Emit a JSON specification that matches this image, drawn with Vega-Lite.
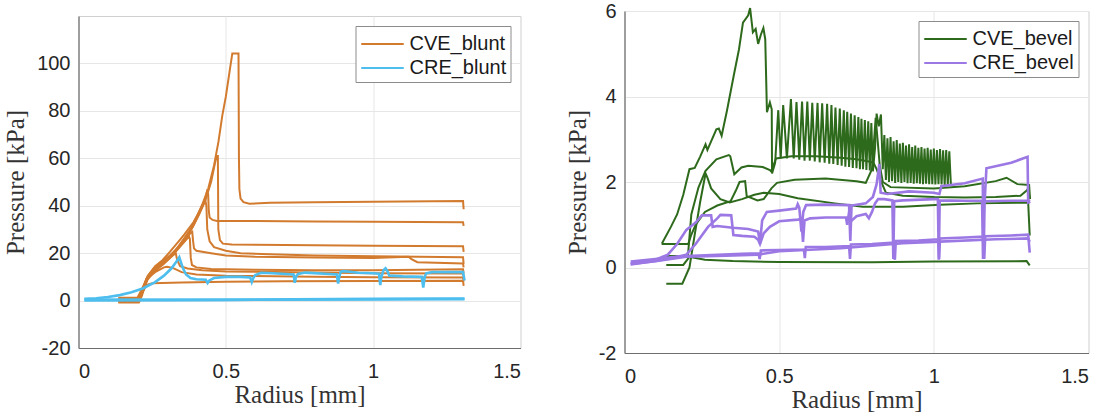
{
"$schema":"https://vega.github.io/schema/vega-lite/v6.json",
"padding":{"left":2.5,"top":0,"right":5,"bottom":0},
"background":"white",
"datasets":{
"blunt":[
{"g":"CVE_blunt","t":1,"x":0.135,"y":-0.8},{"g":"CVE_blunt","t":1,"x":0.205,"y":-0.8},{"g":"CVE_blunt","t":1,"x":0.215,"y":2},{"g":"CVE_blunt","t":1,"x":0.23,"y":8},{"g":"CVE_blunt","t":1,"x":0.245,"y":11.5},{"g":"CVE_blunt","t":1,"x":0.265,"y":14},{"g":"CVE_blunt","t":1,"x":0.29,"y":16},{"g":"CVE_blunt","t":1,"x":0.317,"y":19.5},{"g":"CVE_blunt","t":1,"x":0.34,"y":23},{"g":"CVE_blunt","t":1,"x":0.36,"y":26.5},{"g":"CVE_blunt","t":1,"x":0.38,"y":30},{"g":"CVE_blunt","t":1,"x":0.4,"y":35},{"g":"CVE_blunt","t":1,"x":0.42,"y":40.5},{"g":"CVE_blunt","t":1,"x":0.44,"y":47},{"g":"CVE_blunt","t":1,"x":0.46,"y":57},{"g":"CVE_blunt","t":1,"x":0.475,"y":67},{"g":"CVE_blunt","t":1,"x":0.488,"y":78},{"g":"CVE_blunt","t":1,"x":0.5,"y":86},{"g":"CVE_blunt","t":1,"x":0.512,"y":96},{"g":"CVE_blunt","t":1,"x":0.522,"y":104.2},{"g":"CVE_blunt","t":1,"x":0.543,"y":104.2},{"g":"CVE_blunt","t":1,"x":0.5445,"y":60},{"g":"CVE_blunt","t":1,"x":0.546,"y":47},{"g":"CVE_blunt","t":1,"x":0.55,"y":43},{"g":"CVE_blunt","t":1,"x":0.56,"y":41.5},{"g":"CVE_blunt","t":1,"x":0.58,"y":40.8},{"g":"CVE_blunt","t":1,"x":0.65,"y":41.2},{"g":"CVE_blunt","t":1,"x":0.8,"y":41.5},{"g":"CVE_blunt","t":1,"x":1.0,"y":41.7},{"g":"CVE_blunt","t":1,"x":1.2,"y":41.9},{"g":"CVE_blunt","t":1,"x":1.305,"y":42},{"g":"CVE_blunt","t":1,"x":1.307,"y":38.5},
{"g":"CVE_blunt","t":2,"x":0.135,"y":0},{"g":"CVE_blunt","t":2,"x":0.205,"y":0},{"g":"CVE_blunt","t":2,"x":0.215,"y":3},{"g":"CVE_blunt","t":2,"x":0.23,"y":9},{"g":"CVE_blunt","t":2,"x":0.25,"y":12.5},{"g":"CVE_blunt","t":2,"x":0.27,"y":14.5},{"g":"CVE_blunt","t":2,"x":0.3,"y":17},{"g":"CVE_blunt","t":2,"x":0.325,"y":20},{"g":"CVE_blunt","t":2,"x":0.35,"y":24},{"g":"CVE_blunt","t":2,"x":0.37,"y":27.5},{"g":"CVE_blunt","t":2,"x":0.39,"y":31.5},{"g":"CVE_blunt","t":2,"x":0.41,"y":36.5},{"g":"CVE_blunt","t":2,"x":0.43,"y":42},{"g":"CVE_blunt","t":2,"x":0.45,"y":50},{"g":"CVE_blunt","t":2,"x":0.465,"y":59},{"g":"CVE_blunt","t":2,"x":0.47,"y":61},{"g":"CVE_blunt","t":2,"x":0.473,"y":61},{"g":"CVE_blunt","t":2,"x":0.4745,"y":30},{"g":"CVE_blunt","t":2,"x":0.48,"y":25.5},{"g":"CVE_blunt","t":2,"x":0.49,"y":24},{"g":"CVE_blunt","t":2,"x":0.52,"y":23.6},{"g":"CVE_blunt","t":2,"x":0.7,"y":23.4},{"g":"CVE_blunt","t":2,"x":1.0,"y":23.1},{"g":"CVE_blunt","t":2,"x":1.305,"y":22.9},{"g":"CVE_blunt","t":2,"x":1.307,"y":20.5},
{"g":"CVE_blunt","t":3,"x":0.135,"y":0.8},{"g":"CVE_blunt","t":3,"x":0.205,"y":0.8},{"g":"CVE_blunt","t":3,"x":0.215,"y":4},{"g":"CVE_blunt","t":3,"x":0.235,"y":10.5},{"g":"CVE_blunt","t":3,"x":0.255,"y":13.5},{"g":"CVE_blunt","t":3,"x":0.28,"y":16},{"g":"CVE_blunt","t":3,"x":0.31,"y":19},{"g":"CVE_blunt","t":3,"x":0.335,"y":22},{"g":"CVE_blunt","t":3,"x":0.36,"y":26},{"g":"CVE_blunt","t":3,"x":0.385,"y":30.5},{"g":"CVE_blunt","t":3,"x":0.41,"y":37},{"g":"CVE_blunt","t":3,"x":0.43,"y":43},{"g":"CVE_blunt","t":3,"x":0.436,"y":46},{"g":"CVE_blunt","t":3,"x":0.44,"y":45},{"g":"CVE_blunt","t":3,"x":0.442,"y":38},{"g":"CVE_blunt","t":3,"x":0.445,"y":35},{"g":"CVE_blunt","t":3,"x":0.455,"y":34},{"g":"CVE_blunt","t":3,"x":0.47,"y":33.6},{"g":"CVE_blunt","t":3,"x":0.6,"y":33.6},{"g":"CVE_blunt","t":3,"x":0.8,"y":33.3},{"g":"CVE_blunt","t":3,"x":1.0,"y":33.2},{"g":"CVE_blunt","t":3,"x":1.305,"y":33},{"g":"CVE_blunt","t":3,"x":1.307,"y":31.5},
{"g":"CVE_blunt","t":4,"x":0.135,"y":-0.3},{"g":"CVE_blunt","t":4,"x":0.205,"y":-0.3},{"g":"CVE_blunt","t":4,"x":0.218,"y":4},{"g":"CVE_blunt","t":4,"x":0.24,"y":11},{"g":"CVE_blunt","t":4,"x":0.26,"y":14.5},{"g":"CVE_blunt","t":4,"x":0.285,"y":17},{"g":"CVE_blunt","t":4,"x":0.31,"y":20.5},{"g":"CVE_blunt","t":4,"x":0.34,"y":25},{"g":"CVE_blunt","t":4,"x":0.36,"y":28},{"g":"CVE_blunt","t":4,"x":0.39,"y":33},{"g":"CVE_blunt","t":4,"x":0.41,"y":37.5},{"g":"CVE_blunt","t":4,"x":0.425,"y":41},{"g":"CVE_blunt","t":4,"x":0.43,"y":42.5},{"g":"CVE_blunt","t":4,"x":0.434,"y":40},{"g":"CVE_blunt","t":4,"x":0.437,"y":30},{"g":"CVE_blunt","t":4,"x":0.445,"y":25},{"g":"CVE_blunt","t":4,"x":0.46,"y":22.5},{"g":"CVE_blunt","t":4,"x":0.5,"y":21},{"g":"CVE_blunt","t":4,"x":0.55,"y":20},{"g":"CVE_blunt","t":4,"x":0.65,"y":19.5},{"g":"CVE_blunt","t":4,"x":0.8,"y":19},{"g":"CVE_blunt","t":4,"x":1.0,"y":18.7},{"g":"CVE_blunt","t":4,"x":1.305,"y":18.3},{"g":"CVE_blunt","t":4,"x":1.307,"y":15.5},
{"g":"CVE_blunt","t":5,"x":0.135,"y":1.2},{"g":"CVE_blunt","t":5,"x":0.2,"y":1.2},{"g":"CVE_blunt","t":5,"x":0.212,"y":4},{"g":"CVE_blunt","t":5,"x":0.232,"y":9.5},{"g":"CVE_blunt","t":5,"x":0.255,"y":13},{"g":"CVE_blunt","t":5,"x":0.28,"y":15},{"g":"CVE_blunt","t":5,"x":0.31,"y":18},{"g":"CVE_blunt","t":5,"x":0.34,"y":22},{"g":"CVE_blunt","t":5,"x":0.36,"y":25},{"g":"CVE_blunt","t":5,"x":0.38,"y":28.5},{"g":"CVE_blunt","t":5,"x":0.386,"y":29},{"g":"CVE_blunt","t":5,"x":0.389,"y":25},{"g":"CVE_blunt","t":5,"x":0.392,"y":22},{"g":"CVE_blunt","t":5,"x":0.4,"y":21},{"g":"CVE_blunt","t":5,"x":0.45,"y":20},{"g":"CVE_blunt","t":5,"x":0.5,"y":19},{"g":"CVE_blunt","t":5,"x":0.6,"y":18.5},{"g":"CVE_blunt","t":5,"x":0.8,"y":18.2},{"g":"CVE_blunt","t":5,"x":1.0,"y":18},{"g":"CVE_blunt","t":5,"x":1.12,"y":18.5},{"g":"CVE_blunt","t":5,"x":1.13,"y":17.5},{"g":"CVE_blunt","t":5,"x":1.15,"y":16.2},{"g":"CVE_blunt","t":5,"x":1.305,"y":15.6},{"g":"CVE_blunt","t":5,"x":1.307,"y":14},
{"g":"CVE_blunt","t":6,"x":0.135,"y":0.3},{"g":"CVE_blunt","t":6,"x":0.205,"y":0.3},{"g":"CVE_blunt","t":6,"x":0.215,"y":3.5},{"g":"CVE_blunt","t":6,"x":0.235,"y":10},{"g":"CVE_blunt","t":6,"x":0.255,"y":13},{"g":"CVE_blunt","t":6,"x":0.28,"y":15.5},{"g":"CVE_blunt","t":6,"x":0.31,"y":18.5},{"g":"CVE_blunt","t":6,"x":0.34,"y":22.5},{"g":"CVE_blunt","t":6,"x":0.36,"y":25},{"g":"CVE_blunt","t":6,"x":0.375,"y":27},{"g":"CVE_blunt","t":6,"x":0.378,"y":26},{"g":"CVE_blunt","t":6,"x":0.381,"y":18},{"g":"CVE_blunt","t":6,"x":0.385,"y":15},{"g":"CVE_blunt","t":6,"x":0.4,"y":14},{"g":"CVE_blunt","t":6,"x":0.45,"y":13.3},{"g":"CVE_blunt","t":6,"x":0.6,"y":13},{"g":"CVE_blunt","t":6,"x":0.8,"y":12.8},{"g":"CVE_blunt","t":6,"x":1.0,"y":12.8},{"g":"CVE_blunt","t":6,"x":1.305,"y":13.2},{"g":"CVE_blunt","t":6,"x":1.307,"y":11.5},
{"g":"CVE_blunt","t":7,"x":0.135,"y":-0.5},{"g":"CVE_blunt","t":7,"x":0.205,"y":-0.5},{"g":"CVE_blunt","t":7,"x":0.215,"y":3},{"g":"CVE_blunt","t":7,"x":0.235,"y":9},{"g":"CVE_blunt","t":7,"x":0.26,"y":12.5},{"g":"CVE_blunt","t":7,"x":0.29,"y":15.5},{"g":"CVE_blunt","t":7,"x":0.315,"y":18.5},{"g":"CVE_blunt","t":7,"x":0.33,"y":20},{"g":"CVE_blunt","t":7,"x":0.335,"y":17},{"g":"CVE_blunt","t":7,"x":0.345,"y":14.5},{"g":"CVE_blunt","t":7,"x":0.37,"y":13.5},{"g":"CVE_blunt","t":7,"x":0.42,"y":12.8},{"g":"CVE_blunt","t":7,"x":0.5,"y":12.3},{"g":"CVE_blunt","t":7,"x":0.8,"y":11.8},{"g":"CVE_blunt","t":7,"x":1.0,"y":11.5},{"g":"CVE_blunt","t":7,"x":1.305,"y":11.4},{"g":"CVE_blunt","t":7,"x":1.307,"y":10},
{"g":"CVE_blunt","t":8,"x":0.135,"y":0.5},{"g":"CVE_blunt","t":8,"x":0.205,"y":0.5},{"g":"CVE_blunt","t":8,"x":0.215,"y":3},{"g":"CVE_blunt","t":8,"x":0.23,"y":6.5},{"g":"CVE_blunt","t":8,"x":0.25,"y":7.3},{"g":"CVE_blunt","t":8,"x":0.35,"y":7.6},{"g":"CVE_blunt","t":8,"x":0.5,"y":7.9},{"g":"CVE_blunt","t":8,"x":0.7,"y":8.1},{"g":"CVE_blunt","t":8,"x":1.0,"y":8.3},{"g":"CVE_blunt","t":8,"x":1.305,"y":8.4},{"g":"CVE_blunt","t":8,"x":1.307,"y":6.2},
{"g":"CVE_blunt","t":9,"x":0.135,"y":0},{"g":"CVE_blunt","t":9,"x":0.205,"y":0},{"g":"CVE_blunt","t":9,"x":0.215,"y":3.5},{"g":"CVE_blunt","t":9,"x":0.235,"y":9.5},{"g":"CVE_blunt","t":9,"x":0.26,"y":12},{"g":"CVE_blunt","t":9,"x":0.29,"y":14},{"g":"CVE_blunt","t":9,"x":0.3,"y":14.3},{"g":"CVE_blunt","t":9,"x":0.32,"y":13.8},{"g":"CVE_blunt","t":9,"x":0.35,"y":12},{"g":"CVE_blunt","t":9,"x":0.4,"y":11},{"g":"CVE_blunt","t":9,"x":0.5,"y":10.5},{"g":"CVE_blunt","t":9,"x":0.8,"y":10},{"g":"CVE_blunt","t":9,"x":1.0,"y":9.8},{"g":"CVE_blunt","t":9,"x":1.305,"y":9.7},{"g":"CVE_blunt","t":9,"x":1.307,"y":8},
{"g":"CRE_blunt","t":10,"x":0.02,"y":0.7},{"g":"CRE_blunt","t":10,"x":0.06,"y":1},{"g":"CRE_blunt","t":10,"x":0.1,"y":1.5},{"g":"CRE_blunt","t":10,"x":0.14,"y":2.3},{"g":"CRE_blunt","t":10,"x":0.18,"y":3.5},{"g":"CRE_blunt","t":10,"x":0.22,"y":5.2},{"g":"CRE_blunt","t":10,"x":0.26,"y":7.8},{"g":"CRE_blunt","t":10,"x":0.29,"y":10.5},{"g":"CRE_blunt","t":10,"x":0.315,"y":13.5},{"g":"CRE_blunt","t":10,"x":0.33,"y":16},{"g":"CRE_blunt","t":10,"x":0.342,"y":18.3},{"g":"CRE_blunt","t":10,"x":0.348,"y":16},{"g":"CRE_blunt","t":10,"x":0.355,"y":13.5},{"g":"CRE_blunt","t":10,"x":0.365,"y":11},{"g":"CRE_blunt","t":10,"x":0.38,"y":9.5},{"g":"CRE_blunt","t":10,"x":0.4,"y":9},{"g":"CRE_blunt","t":10,"x":0.432,"y":8.8},{"g":"CRE_blunt","t":10,"x":0.438,"y":7.4},{"g":"CRE_blunt","t":10,"x":0.444,"y":8.5},{"g":"CRE_blunt","t":10,"x":0.46,"y":9.5},{"g":"CRE_blunt","t":10,"x":0.5,"y":10},{"g":"CRE_blunt","t":10,"x":0.55,"y":10},{"g":"CRE_blunt","t":10,"x":0.583,"y":9.7},{"g":"CRE_blunt","t":10,"x":0.588,"y":7.8},{"g":"CRE_blunt","t":10,"x":0.593,"y":9.5},{"g":"CRE_blunt","t":10,"x":0.6,"y":10.8},{"g":"CRE_blunt","t":10,"x":0.62,"y":11.7},{"g":"CRE_blunt","t":10,"x":0.66,"y":11.5},{"g":"CRE_blunt","t":10,"x":0.73,"y":11},{"g":"CRE_blunt","t":10,"x":0.734,"y":7.5},{"g":"CRE_blunt","t":10,"x":0.738,"y":10},{"g":"CRE_blunt","t":10,"x":0.745,"y":11.2},{"g":"CRE_blunt","t":10,"x":0.77,"y":11.8},{"g":"CRE_blunt","t":10,"x":0.85,"y":11.2},{"g":"CRE_blunt","t":10,"x":0.877,"y":11},{"g":"CRE_blunt","t":10,"x":0.881,"y":7.2},{"g":"CRE_blunt","t":10,"x":0.885,"y":10},{"g":"CRE_blunt","t":10,"x":0.89,"y":12.2},{"g":"CRE_blunt","t":10,"x":0.9,"y":12.4},{"g":"CRE_blunt","t":10,"x":0.95,"y":11.7},{"g":"CRE_blunt","t":10,"x":1.0,"y":11.5},{"g":"CRE_blunt","t":10,"x":1.02,"y":11.3},{"g":"CRE_blunt","t":10,"x":1.024,"y":6.5},{"g":"CRE_blunt","t":10,"x":1.028,"y":10},{"g":"CRE_blunt","t":10,"x":1.035,"y":12.8},{"g":"CRE_blunt","t":10,"x":1.042,"y":13.6},{"g":"CRE_blunt","t":10,"x":1.048,"y":12.5},{"g":"CRE_blunt","t":10,"x":1.055,"y":10.5},{"g":"CRE_blunt","t":10,"x":1.1,"y":10.2},{"g":"CRE_blunt","t":10,"x":1.165,"y":10},{"g":"CRE_blunt","t":10,"x":1.17,"y":5.5},{"g":"CRE_blunt","t":10,"x":1.175,"y":10},{"g":"CRE_blunt","t":10,"x":1.18,"y":11.5},{"g":"CRE_blunt","t":10,"x":1.2,"y":12},{"g":"CRE_blunt","t":10,"x":1.305,"y":12},{"g":"CRE_blunt","t":10,"x":1.31,"y":8.5},
{"g":"CRE_blunt","t":11,"x":0.02,"y":0},{"g":"CRE_blunt","t":11,"x":0.3,"y":0.2},{"g":"CRE_blunt","t":11,"x":0.6,"y":0.4},{"g":"CRE_blunt","t":11,"x":1.0,"y":0.7},{"g":"CRE_blunt","t":11,"x":1.31,"y":0.9},
{"g":"CRE_blunt","t":12,"x":0.02,"y":0.4},{"g":"CRE_blunt","t":12,"x":0.5,"y":0.3},{"g":"CRE_blunt","t":12,"x":1.0,"y":0.5},{"g":"CRE_blunt","t":12,"x":1.31,"y":0.6}
],
"bevel":[
{"g":"CVE_bevel","t":1,"x":0.121,"y":0.56},{"g":"CVE_bevel","t":1,"x":0.15,"y":0.95},{"g":"CVE_bevel","t":1,"x":0.17,"y":1.24},{"g":"CVE_bevel","t":1,"x":0.19,"y":1.7},{"g":"CVE_bevel","t":1,"x":0.21,"y":2.3},{"g":"CVE_bevel","t":1,"x":0.227,"y":2.33},{"g":"CVE_bevel","t":1,"x":0.245,"y":2.6},{"g":"CVE_bevel","t":1,"x":0.262,"y":2.88},{"g":"CVE_bevel","t":1,"x":0.268,"y":2.75},{"g":"CVE_bevel","t":1,"x":0.28,"y":2.95},{"g":"CVE_bevel","t":1,"x":0.297,"y":3.23},{"g":"CVE_bevel","t":1,"x":0.305,"y":3.25},{"g":"CVE_bevel","t":1,"x":0.314,"y":3.08},{"g":"CVE_bevel","t":1,"x":0.331,"y":3.66},{"g":"CVE_bevel","t":1,"x":0.354,"y":4.52},{"g":"CVE_bevel","t":1,"x":0.37,"y":5.1},{"g":"CVE_bevel","t":1,"x":0.383,"y":5.73},{"g":"CVE_bevel","t":1,"x":0.4,"y":5.9},{"g":"CVE_bevel","t":1,"x":0.406,"y":6.07},{"g":"CVE_bevel","t":1,"x":0.415,"y":5.5},{"g":"CVE_bevel","t":1,"x":0.424,"y":5.58},{"g":"CVE_bevel","t":1,"x":0.432,"y":5.23},{"g":"CVE_bevel","t":1,"x":0.441,"y":5.45},{"g":"CVE_bevel","t":1,"x":0.449,"y":5.6},{"g":"CVE_bevel","t":1,"x":0.455,"y":5.34},{"g":"CVE_bevel","t":1,"x":0.4605,"y":3.63},{"g":"CVE_bevel","t":1,"x":0.47,"y":3.86},{"g":"CVE_bevel","t":1,"x":0.476,"y":3.7},{"g":"CVE_bevel","t":1,"x":0.477,"y":2.2},{"g":"CVE_bevel","t":1,"x":0.487,"y":2.45},
{"g":"CVE_bevel","t":1,"x":0.497,"y":3.68},{"g":"CVE_bevel","t":1,"x":0.505,"y":2.55},{"g":"CVE_bevel","t":1,"x":0.513,"y":3.8},{"g":"CVE_bevel","t":1,"x":0.525,"y":2.55},{"g":"CVE_bevel","t":1,"x":0.538,"y":3.94},{"g":"CVE_bevel","t":1,"x":0.547,"y":2.55},{"g":"CVE_bevel","t":1,"x":0.556,"y":3.87},{"g":"CVE_bevel","t":1,"x":0.565,"y":2.52},{"g":"CVE_bevel","t":1,"x":0.574,"y":3.88},{"g":"CVE_bevel","t":1,"x":0.582,"y":2.5},{"g":"CVE_bevel","t":1,"x":0.591,"y":3.88},{"g":"CVE_bevel","t":1,"x":0.599,"y":2.5},{"g":"CVE_bevel","t":1,"x":0.607,"y":3.85},{"g":"CVE_bevel","t":1,"x":0.615,"y":2.48},{"g":"CVE_bevel","t":1,"x":0.624,"y":3.85},{"g":"CVE_bevel","t":1,"x":0.631,"y":2.46},{"g":"CVE_bevel","t":1,"x":0.639,"y":3.84},{"g":"CVE_bevel","t":1,"x":0.647,"y":2.45},{"g":"CVE_bevel","t":1,"x":0.655,"y":3.83},{"g":"CVE_bevel","t":1,"x":0.662,"y":2.43},{"g":"CVE_bevel","t":1,"x":0.669,"y":3.8},{"g":"CVE_bevel","t":1,"x":0.675,"y":2.42},{"g":"CVE_bevel","t":1,"x":0.682,"y":3.74},{"g":"CVE_bevel","t":1,"x":0.689,"y":2.4},{"g":"CVE_bevel","t":1,"x":0.696,"y":3.72},{"g":"CVE_bevel","t":1,"x":0.702,"y":2.38},{"g":"CVE_bevel","t":1,"x":0.709,"y":3.68},{"g":"CVE_bevel","t":1,"x":0.714,"y":2.36},{"g":"CVE_bevel","t":1,"x":0.72,"y":3.64},{"g":"CVE_bevel","t":1,"x":0.726,"y":2.35},{"g":"CVE_bevel","t":1,"x":0.732,"y":3.6},{"g":"CVE_bevel","t":1,"x":0.738,"y":2.33},{"g":"CVE_bevel","t":1,"x":0.744,"y":3.56},{"g":"CVE_bevel","t":1,"x":0.75,"y":2.32},{"g":"CVE_bevel","t":1,"x":0.756,"y":3.52},{"g":"CVE_bevel","t":1,"x":0.761,"y":2.3},{"g":"CVE_bevel","t":1,"x":0.766,"y":3.48},{"g":"CVE_bevel","t":1,"x":0.771,"y":2.3},{"g":"CVE_bevel","t":1,"x":0.777,"y":3.45},{"g":"CVE_bevel","t":1,"x":0.782,"y":2.28},{"g":"CVE_bevel","t":1,"x":0.788,"y":3.42},{"g":"CVE_bevel","t":1,"x":0.793,"y":2.27},{"g":"CVE_bevel","t":1,"x":0.798,"y":3.38},{"g":"CVE_bevel","t":1,"x":0.803,"y":2.25},
{"g":"CVE_bevel","t":1,"x":0.81,"y":2.8},{"g":"CVE_bevel","t":1,"x":0.815,"y":3.6},{"g":"CVE_bevel","t":1,"x":0.822,"y":3.3},{"g":"CVE_bevel","t":1,"x":0.829,"y":3.58},{"g":"CVE_bevel","t":1,"x":0.835,"y":2.3},
{"g":"CVE_bevel","t":1,"x":0.84,"y":3.1},{"g":"CVE_bevel","t":1,"x":0.845,"y":2.05},{"g":"CVE_bevel","t":1,"x":0.85,"y":3.02},{"g":"CVE_bevel","t":1,"x":0.855,"y":2.0},{"g":"CVE_bevel","t":1,"x":0.86,"y":3.05},{"g":"CVE_bevel","t":1,"x":0.865,"y":2.02},{"g":"CVE_bevel","t":1,"x":0.87,"y":2.95},{"g":"CVE_bevel","t":1,"x":0.875,"y":1.98},{"g":"CVE_bevel","t":1,"x":0.88,"y":2.98},{"g":"CVE_bevel","t":1,"x":0.885,"y":2.0},{"g":"CVE_bevel","t":1,"x":0.89,"y":2.9},{"g":"CVE_bevel","t":1,"x":0.895,"y":1.98},{"g":"CVE_bevel","t":1,"x":0.9,"y":2.92},{"g":"CVE_bevel","t":1,"x":0.905,"y":2.0},{"g":"CVE_bevel","t":1,"x":0.91,"y":2.85},{"g":"CVE_bevel","t":1,"x":0.915,"y":1.97},{"g":"CVE_bevel","t":1,"x":0.92,"y":2.88},{"g":"CVE_bevel","t":1,"x":0.925,"y":1.98},{"g":"CVE_bevel","t":1,"x":0.93,"y":2.82},{"g":"CVE_bevel","t":1,"x":0.935,"y":1.96},{"g":"CVE_bevel","t":1,"x":0.94,"y":2.85},{"g":"CVE_bevel","t":1,"x":0.945,"y":1.97},{"g":"CVE_bevel","t":1,"x":0.95,"y":2.8},{"g":"CVE_bevel","t":1,"x":0.955,"y":1.96},{"g":"CVE_bevel","t":1,"x":0.96,"y":2.82},{"g":"CVE_bevel","t":1,"x":0.965,"y":1.95},{"g":"CVE_bevel","t":1,"x":0.97,"y":2.78},{"g":"CVE_bevel","t":1,"x":0.975,"y":1.96},{"g":"CVE_bevel","t":1,"x":0.98,"y":2.8},{"g":"CVE_bevel","t":1,"x":0.985,"y":1.95},{"g":"CVE_bevel","t":1,"x":0.99,"y":2.76},{"g":"CVE_bevel","t":1,"x":0.995,"y":1.95},{"g":"CVE_bevel","t":1,"x":1.0,"y":2.78},{"g":"CVE_bevel","t":1,"x":1.005,"y":1.94},{"g":"CVE_bevel","t":1,"x":1.01,"y":2.75},{"g":"CVE_bevel","t":1,"x":1.015,"y":1.95},{"g":"CVE_bevel","t":1,"x":1.02,"y":2.77},{"g":"CVE_bevel","t":1,"x":1.025,"y":1.94},{"g":"CVE_bevel","t":1,"x":1.03,"y":2.74},{"g":"CVE_bevel","t":1,"x":1.035,"y":1.93},{"g":"CVE_bevel","t":1,"x":1.04,"y":2.75},{"g":"CVE_bevel","t":1,"x":1.045,"y":1.93},{"g":"CVE_bevel","t":1,"x":1.05,"y":2.72},{"g":"CVE_bevel","t":1,"x":1.055,"y":1.95},
{"g":"CVE_bevel","t":2,"x":0.135,"y":0.27},{"g":"CVE_bevel","t":2,"x":0.205,"y":0.27},{"g":"CVE_bevel","t":2,"x":0.216,"y":1.24},{"g":"CVE_bevel","t":2,"x":0.239,"y":1.87},{"g":"CVE_bevel","t":2,"x":0.262,"y":2.26},{"g":"CVE_bevel","t":2,"x":0.297,"y":2.53},{"g":"CVE_bevel","t":2,"x":0.337,"y":2.63},{"g":"CVE_bevel","t":2,"x":0.342,"y":2.6},{"g":"CVE_bevel","t":2,"x":0.355,"y":2.18},{"g":"CVE_bevel","t":2,"x":0.378,"y":2.34},{"g":"CVE_bevel","t":2,"x":0.4,"y":2.38},{"g":"CVE_bevel","t":2,"x":0.447,"y":2.35},{"g":"CVE_bevel","t":2,"x":0.47,"y":2.28},{"g":"CVE_bevel","t":2,"x":0.474,"y":2.25},{"g":"CVE_bevel","t":2,"x":0.49,"y":2.55},{"g":"CVE_bevel","t":2,"x":0.54,"y":2.6},{"g":"CVE_bevel","t":2,"x":0.62,"y":2.6},{"g":"CVE_bevel","t":2,"x":0.7,"y":2.57},{"g":"CVE_bevel","t":2,"x":0.75,"y":2.53},{"g":"CVE_bevel","t":2,"x":0.79,"y":2.48},{"g":"CVE_bevel","t":2,"x":0.805,"y":2.45},{"g":"CVE_bevel","t":2,"x":0.815,"y":2.3},{"g":"CVE_bevel","t":2,"x":0.83,"y":2.0},{"g":"CVE_bevel","t":2,"x":0.845,"y":1.75},{"g":"CVE_bevel","t":2,"x":0.9,"y":1.68},{"g":"CVE_bevel","t":2,"x":1.0,"y":1.65},{"g":"CVE_bevel","t":2,"x":1.1,"y":1.64},{"g":"CVE_bevel","t":2,"x":1.2,"y":1.65},{"g":"CVE_bevel","t":2,"x":1.28,"y":1.68},{"g":"CVE_bevel","t":2,"x":1.3,"y":1.8},{"g":"CVE_bevel","t":2,"x":1.305,"y":1.85},{"g":"CVE_bevel","t":2,"x":1.31,"y":1.6},
{"g":"CVE_bevel","t":3,"x":0.12,"y":0.55},{"g":"CVE_bevel","t":3,"x":0.206,"y":0.55},{"g":"CVE_bevel","t":3,"x":0.215,"y":0.75},{"g":"CVE_bevel","t":3,"x":0.23,"y":1.0},{"g":"CVE_bevel","t":3,"x":0.26,"y":1.3},{"g":"CVE_bevel","t":3,"x":0.3,"y":1.45},{"g":"CVE_bevel","t":3,"x":0.343,"y":1.55},{"g":"CVE_bevel","t":3,"x":0.36,"y":1.8},{"g":"CVE_bevel","t":3,"x":0.372,"y":2.0},{"g":"CVE_bevel","t":3,"x":0.39,"y":2.02},{"g":"CVE_bevel","t":3,"x":0.395,"y":1.67},{"g":"CVE_bevel","t":3,"x":0.43,"y":1.57},{"g":"CVE_bevel","t":3,"x":0.45,"y":1.6},{"g":"CVE_bevel","t":3,"x":0.475,"y":1.85},{"g":"CVE_bevel","t":3,"x":0.493,"y":1.98},{"g":"CVE_bevel","t":3,"x":0.55,"y":2.05},{"g":"CVE_bevel","t":3,"x":0.65,"y":2.08},{"g":"CVE_bevel","t":3,"x":0.75,"y":2.02},{"g":"CVE_bevel","t":3,"x":0.78,"y":1.98},{"g":"CVE_bevel","t":3,"x":0.8,"y":2.3},{"g":"CVE_bevel","t":3,"x":0.812,"y":3.5},{"g":"CVE_bevel","t":3,"x":0.818,"y":3.0},{"g":"CVE_bevel","t":3,"x":0.825,"y":2.4},{"g":"CVE_bevel","t":3,"x":0.835,"y":2.0},{"g":"CVE_bevel","t":3,"x":0.86,"y":1.88},{"g":"CVE_bevel","t":3,"x":1.0,"y":1.85},{"g":"CVE_bevel","t":3,"x":1.1,"y":1.9},{"g":"CVE_bevel","t":3,"x":1.2,"y":2.02},{"g":"CVE_bevel","t":3,"x":1.235,"y":2.1},{"g":"CVE_bevel","t":3,"x":1.27,"y":1.95},{"g":"CVE_bevel","t":3,"x":1.308,"y":1.93},{"g":"CVE_bevel","t":3,"x":1.311,"y":1.6},
{"g":"CVE_bevel","t":4,"x":0.135,"y":-0.38},{"g":"CVE_bevel","t":4,"x":0.187,"y":-0.38},{"g":"CVE_bevel","t":4,"x":0.21,"y":0},{"g":"CVE_bevel","t":4,"x":0.227,"y":0.77},{"g":"CVE_bevel","t":4,"x":0.245,"y":1.55},{"g":"CVE_bevel","t":4,"x":0.262,"y":2.2},{"g":"CVE_bevel","t":4,"x":0.268,"y":2.1},{"g":"CVE_bevel","t":4,"x":0.28,"y":1.85},{"g":"CVE_bevel","t":4,"x":0.31,"y":1.6},{"g":"CVE_bevel","t":4,"x":0.34,"y":1.52},{"g":"CVE_bevel","t":4,"x":0.38,"y":1.6},{"g":"CVE_bevel","t":4,"x":0.42,"y":1.7},{"g":"CVE_bevel","t":4,"x":0.45,"y":1.75},{"g":"CVE_bevel","t":4,"x":0.5,"y":1.72},{"g":"CVE_bevel","t":4,"x":0.56,"y":1.62},{"g":"CVE_bevel","t":4,"x":0.68,"y":1.5},{"g":"CVE_bevel","t":4,"x":0.77,"y":1.42},{"g":"CVE_bevel","t":4,"x":0.9,"y":1.42},{"g":"CVE_bevel","t":4,"x":1.02,"y":1.47},{"g":"CVE_bevel","t":4,"x":1.14,"y":1.5},{"g":"CVE_bevel","t":4,"x":1.305,"y":1.52},{"g":"CVE_bevel","t":4,"x":1.31,"y":0.75},
{"g":"CVE_bevel","t":5,"x":0.135,"y":0.06},{"g":"CVE_bevel","t":5,"x":0.19,"y":0.06},{"g":"CVE_bevel","t":5,"x":0.21,"y":0.25},{"g":"CVE_bevel","t":5,"x":0.23,"y":0.22},{"g":"CVE_bevel","t":5,"x":0.26,"y":0.18},{"g":"CVE_bevel","t":5,"x":0.35,"y":0.15},{"g":"CVE_bevel","t":5,"x":0.5,"y":0.13},{"g":"CVE_bevel","t":5,"x":0.8,"y":0.12},{"g":"CVE_bevel","t":5,"x":1.0,"y":0.14},{"g":"CVE_bevel","t":5,"x":1.3,"y":0.15},{"g":"CVE_bevel","t":5,"x":1.31,"y":0.05},
{"g":"CRE_bevel","t":6,"x":0.02,"y":0.1},{"g":"CRE_bevel","t":6,"x":0.06,"y":0.13},{"g":"CRE_bevel","t":6,"x":0.1,"y":0.18},{"g":"CRE_bevel","t":6,"x":0.14,"y":0.3},{"g":"CRE_bevel","t":6,"x":0.17,"y":0.55},{"g":"CRE_bevel","t":6,"x":0.2,"y":0.88},{"g":"CRE_bevel","t":6,"x":0.23,"y":1.05},{"g":"CRE_bevel","t":6,"x":0.25,"y":1.22},{"g":"CRE_bevel","t":6,"x":0.28,"y":1.22},{"g":"CRE_bevel","t":6,"x":0.285,"y":0.95},{"g":"CRE_bevel","t":6,"x":0.3,"y":0.97},{"g":"CRE_bevel","t":6,"x":0.35,"y":0.93},{"g":"CRE_bevel","t":6,"x":0.4,"y":0.9},{"g":"CRE_bevel","t":6,"x":0.432,"y":0.84},{"g":"CRE_bevel","t":6,"x":0.438,"y":0.56},{"g":"CRE_bevel","t":6,"x":0.445,"y":1.1},{"g":"CRE_bevel","t":6,"x":0.46,"y":1.3},{"g":"CRE_bevel","t":6,"x":0.5,"y":1.33},{"g":"CRE_bevel","t":6,"x":0.555,"y":1.38},{"g":"CRE_bevel","t":6,"x":0.56,"y":1.48},{"g":"CRE_bevel","t":6,"x":0.565,"y":1.4},{"g":"CRE_bevel","t":6,"x":0.572,"y":0.84},{"g":"CRE_bevel","t":6,"x":0.578,"y":1.3},{"g":"CRE_bevel","t":6,"x":0.587,"y":1.46},{"g":"CRE_bevel","t":6,"x":0.65,"y":1.47},{"g":"CRE_bevel","t":6,"x":0.726,"y":1.46},{"g":"CRE_bevel","t":6,"x":0.73,"y":0.62},{"g":"CRE_bevel","t":6,"x":0.734,"y":1.45},{"g":"CRE_bevel","t":6,"x":0.78,"y":1.5},{"g":"CRE_bevel","t":6,"x":0.803,"y":1.65},{"g":"CRE_bevel","t":6,"x":0.815,"y":1.95},{"g":"CRE_bevel","t":6,"x":0.824,"y":2.42},{"g":"CRE_bevel","t":6,"x":0.828,"y":1.75},{"g":"CRE_bevel","t":6,"x":0.85,"y":1.72},{"g":"CRE_bevel","t":6,"x":0.92,"y":1.78},{"g":"CRE_bevel","t":6,"x":1.0,"y":1.75},{"g":"CRE_bevel","t":6,"x":1.018,"y":1.72},{"g":"CRE_bevel","t":6,"x":1.024,"y":1.9},{"g":"CRE_bevel","t":6,"x":1.1,"y":1.97},{"g":"CRE_bevel","t":6,"x":1.158,"y":2.08},{"g":"CRE_bevel","t":6,"x":1.161,"y":0.2},{"g":"CRE_bevel","t":6,"x":1.164,"y":1.5},{"g":"CRE_bevel","t":6,"x":1.17,"y":2.32},{"g":"CRE_bevel","t":6,"x":1.25,"y":2.45},{"g":"CRE_bevel","t":6,"x":1.303,"y":2.59},{"g":"CRE_bevel","t":6,"x":1.305,"y":1.54},{"g":"CRE_bevel","t":6,"x":1.31,"y":1.58},
{"g":"CRE_bevel","t":7,"x":0.02,"y":0.07},{"g":"CRE_bevel","t":7,"x":0.1,"y":0.15},{"g":"CRE_bevel","t":7,"x":0.15,"y":0.22},{"g":"CRE_bevel","t":7,"x":0.2,"y":0.3},{"g":"CRE_bevel","t":7,"x":0.23,"y":0.55},{"g":"CRE_bevel","t":7,"x":0.27,"y":0.95},{"g":"CRE_bevel","t":7,"x":0.3,"y":1.15},{"g":"CRE_bevel","t":7,"x":0.31,"y":1.23},{"g":"CRE_bevel","t":7,"x":0.345,"y":1.22},{"g":"CRE_bevel","t":7,"x":0.352,"y":0.76},{"g":"CRE_bevel","t":7,"x":0.38,"y":0.74},{"g":"CRE_bevel","t":7,"x":0.42,"y":0.72},{"g":"CRE_bevel","t":7,"x":0.432,"y":0.65},{"g":"CRE_bevel","t":7,"x":0.438,"y":0.55},{"g":"CRE_bevel","t":7,"x":0.45,"y":0.8},{"g":"CRE_bevel","t":7,"x":0.47,"y":0.95},{"g":"CRE_bevel","t":7,"x":0.5,"y":1.08},{"g":"CRE_bevel","t":7,"x":0.56,"y":1.12},{"g":"CRE_bevel","t":7,"x":0.572,"y":1.13},{"g":"CRE_bevel","t":7,"x":0.577,"y":0.6},{"g":"CRE_bevel","t":7,"x":0.582,"y":1.1},{"g":"CRE_bevel","t":7,"x":0.6,"y":1.15},{"g":"CRE_bevel","t":7,"x":0.65,"y":1.17},{"g":"CRE_bevel","t":7,"x":0.716,"y":1.17},{"g":"CRE_bevel","t":7,"x":0.72,"y":1.0},{"g":"CRE_bevel","t":7,"x":0.725,"y":1.25},{"g":"CRE_bevel","t":7,"x":0.735,"y":1.1},{"g":"CRE_bevel","t":7,"x":0.75,"y":1.2},{"g":"CRE_bevel","t":7,"x":0.78,"y":1.25},{"g":"CRE_bevel","t":7,"x":0.79,"y":1.15},{"g":"CRE_bevel","t":7,"x":0.8,"y":1.3},{"g":"CRE_bevel","t":7,"x":0.81,"y":1.5},{"g":"CRE_bevel","t":7,"x":0.82,"y":1.6},{"g":"CRE_bevel","t":7,"x":0.84,"y":1.6},{"g":"CRE_bevel","t":7,"x":0.866,"y":1.57},{"g":"CRE_bevel","t":7,"x":0.869,"y":0.2},{"g":"CRE_bevel","t":7,"x":0.872,"y":1.55},{"g":"CRE_bevel","t":7,"x":0.9,"y":1.57},{"g":"CRE_bevel","t":7,"x":1.0,"y":1.6},{"g":"CRE_bevel","t":7,"x":1.013,"y":1.6},{"g":"CRE_bevel","t":7,"x":1.016,"y":0.18},{"g":"CRE_bevel","t":7,"x":1.019,"y":1.57},{"g":"CRE_bevel","t":7,"x":1.1,"y":1.56},{"g":"CRE_bevel","t":7,"x":1.156,"y":1.56},{"g":"CRE_bevel","t":7,"x":1.159,"y":0.2},{"g":"CRE_bevel","t":7,"x":1.162,"y":1.55},{"g":"CRE_bevel","t":7,"x":1.25,"y":1.56},{"g":"CRE_bevel","t":7,"x":1.305,"y":1.56},{"g":"CRE_bevel","t":7,"x":1.31,"y":1.5},
{"g":"CRE_bevel","t":8,"x":0.02,"y":0.14},{"g":"CRE_bevel","t":8,"x":0.1,"y":0.2},{"g":"CRE_bevel","t":8,"x":0.15,"y":0.24},{"g":"CRE_bevel","t":8,"x":0.2,"y":0.27},{"g":"CRE_bevel","t":8,"x":0.3,"y":0.3},{"g":"CRE_bevel","t":8,"x":0.38,"y":0.32},{"g":"CRE_bevel","t":8,"x":0.433,"y":0.33},{"g":"CRE_bevel","t":8,"x":0.437,"y":0.2},{"g":"CRE_bevel","t":8,"x":0.441,"y":0.4},{"g":"CRE_bevel","t":8,"x":0.5,"y":0.41},{"g":"CRE_bevel","t":8,"x":0.58,"y":0.42},{"g":"CRE_bevel","t":8,"x":0.583,"y":0.22},{"g":"CRE_bevel","t":8,"x":0.586,"y":0.48},{"g":"CRE_bevel","t":8,"x":0.65,"y":0.48},{"g":"CRE_bevel","t":8,"x":0.726,"y":0.5},{"g":"CRE_bevel","t":8,"x":0.729,"y":0.2},{"g":"CRE_bevel","t":8,"x":0.732,"y":0.54},{"g":"CRE_bevel","t":8,"x":0.8,"y":0.55},{"g":"CRE_bevel","t":8,"x":0.871,"y":0.58},{"g":"CRE_bevel","t":8,"x":0.874,"y":0.18},{"g":"CRE_bevel","t":8,"x":0.877,"y":0.62},{"g":"CRE_bevel","t":8,"x":0.95,"y":0.63},{"g":"CRE_bevel","t":8,"x":1.014,"y":0.66},{"g":"CRE_bevel","t":8,"x":1.017,"y":0.2},{"g":"CRE_bevel","t":8,"x":1.02,"y":0.68},{"g":"CRE_bevel","t":8,"x":1.1,"y":0.7},{"g":"CRE_bevel","t":8,"x":1.16,"y":0.72},{"g":"CRE_bevel","t":8,"x":1.163,"y":0.2},{"g":"CRE_bevel","t":8,"x":1.166,"y":0.73},{"g":"CRE_bevel","t":8,"x":1.25,"y":0.75},{"g":"CRE_bevel","t":8,"x":1.305,"y":0.77},{"g":"CRE_bevel","t":8,"x":1.31,"y":0.35},
{"g":"CRE_bevel","t":9,"x":0.02,"y":0.08},{"g":"CRE_bevel","t":9,"x":0.1,"y":0.15},{"g":"CRE_bevel","t":9,"x":0.2,"y":0.25},{"g":"CRE_bevel","t":9,"x":0.3,"y":0.27},{"g":"CRE_bevel","t":9,"x":0.43,"y":0.3},{"g":"CRE_bevel","t":9,"x":0.5,"y":0.38},{"g":"CRE_bevel","t":9,"x":0.7,"y":0.45},{"g":"CRE_bevel","t":9,"x":0.9,"y":0.57},{"g":"CRE_bevel","t":9,"x":1.0,"y":0.6},{"g":"CRE_bevel","t":9,"x":1.2,"y":0.66},{"g":"CRE_bevel","t":9,"x":1.305,"y":0.68},{"g":"CRE_bevel","t":9,"x":1.31,"y":0.6}
]
},
"hconcat":[
{"width":442,"height":332,"data":{"name":"blunt"},
 "encoding":{
  "x":{"field":"x","type":"quantitative","scale":{"domain":[0,1.5]},"axis":{"values":[0,0.5,1,1.5],"labelExpr":"toString(datum.value)","title":"Radius [mm]"}},
  "y":{"field":"y","type":"quantitative","scale":{"domain":[-20,120]},"axis":{"values":[-20,0,20,40,60,80,100],"labelExpr":"toString(datum.value)","title":"Pressure [kPa]"}},
  "color":{"field":"g","type":"nominal","scale":{"domain":["CVE_blunt","CRE_blunt"],"range":["#D27B2F","#4DBEEE"]},"legend":{"title":null}},
  "detail":{"field":"t","type":"nominal"}
 },
 "layer":[
  {"transform":[{"filter":"datum.g==='CVE_blunt'"}],"mark":{"type":"line","strokeWidth":2}},
  {"transform":[{"filter":"datum.g==='CRE_blunt'"}],"mark":{"type":"line","strokeWidth":2.6}}
 ]
},
{"width":464,"height":342,"data":{"name":"bevel"},
 "encoding":{
  "x":{"field":"x","type":"quantitative","scale":{"domain":[0,1.5]},"axis":{"values":[0,0.5,1,1.5],"labelExpr":"toString(datum.value)","title":"Radius [mm]"}},
  "y":{"field":"y","type":"quantitative","scale":{"domain":[-2,6]},"axis":{"values":[-2,0,2,4,6],"labelExpr":"toString(datum.value)","title":"Pressure [kPa]"}},
  "color":{"field":"g","type":"nominal","scale":{"domain":["CVE_bevel","CRE_bevel"],"range":["#2E6A1C","#9C78E4"]},"legend":{"title":null}},
  "detail":{"field":"t","type":"nominal"}
 },
 "layer":[
  {"transform":[{"filter":"datum.g==='CVE_bevel'"}],"mark":{"type":"line","strokeWidth":2}},
  {"transform":[{"filter":"datum.g==='CRE_bevel'"}],"mark":{"type":"line","strokeWidth":2.6}}
 ]
}
],
"spacing":104,
"bounds":"flush",
"center":true,
"resolve":{"scale":{"color":"independent"}},
"config":{
 "view":{"stroke":"#cfcfcf","strokeWidth":1},
 "axis":{"labelFont":"Liberation Sans","labelFontSize":20,"labelColor":"#262626","titleFont":"Liberation Serif","titleFontSize":25,"titleFontWeight":"normal","titleColor":"#333333","grid":true,"gridColor":"#e6e6e6","ticks":false,"domainColor":"#6e6e6e","domainWidth":1.2},
 "axisX":{"labelPadding":13,"titlePadding":1},
 "axisY":{"labelPadding":8.5,"titlePadding":8},
 "legend":{"orient":"top-right","offset":10,"strokeColor":"#8c8c8c","fillColor":"white","padding":4,"labelFont":"Liberation Sans","labelFontSize":20,"labelColor":"#1a1a1a","symbolType":"M-1.7,0L1.7,0","symbolSize":625,"symbolStrokeWidth":2.2,"symbolOffset":9,"labelOffset":13,"rowPadding":0}
}
}
